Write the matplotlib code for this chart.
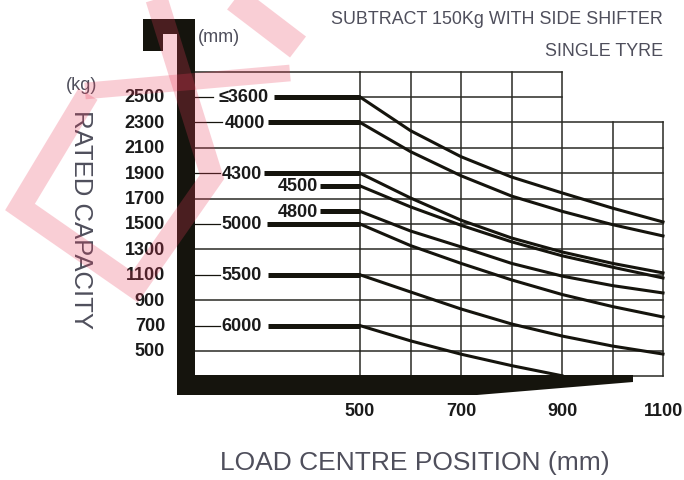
import matplotlib
matplotlib.use('Agg')
from matplotlib import pyplot as plt
from matplotlib.patches import Polygon

load_centre = [500, 600, 700, 800, 900, 1000, 1100]

# rated capacity (kg) per lift height (mm)
mast_labels = ['≤3600', '4000', '4300', '4500', '4800', '5000', '5500', '6000']
cap_3600 = [2500, 2235, 2030, 1870, 1745, 1625, 1516]
cap_4000 = [2300, 2070, 1880, 1720, 1600, 1495, 1406]
cap_4300 = [1900, 1705, 1530, 1390, 1280, 1190, 1115]
cap_4500 = [1800, 1635, 1490, 1360, 1250, 1160, 1075]
cap_4800 = [1600, 1445, 1320, 1190, 1090, 1015, 957]
cap_5000 = [1500, 1330, 1190, 1060, 945, 850, 768]
cap_5500 = [1100, 965, 831, 713, 618, 539, 476]
cap_6000 = [700, 580, 475, 385, 305]
curves = [cap_3600, cap_4000, cap_4300, cap_4500, cap_4800, cap_5000, cap_5500, cap_6000]

capacity_ticks = [2500, 2300, 2100, 1900, 1700, 1500, 1300, 1100, 900, 700, 500]
centre_ticks = [500, 700, 900, 1100]

INK = '#15140d'
TXT = '#4f4f5c'
FONT = ['Liberation Sans', 'DejaVu Sans']

fig = plt.figure(figsize=(6.84, 4.81), dpi=100)
ax = fig.add_axes([0, 0, 1, 1])
ax.set_xlim(-212.87, 1141.58)
ax.set_ylim(-515.75, 3271.65)
ax.axis('off')

mast_x = 173.3   # right edge of the mast, in mm units

# grid
for x in range(500, 1101, 100):
    top = 2700 if x <= 900 else 2300
    ax.plot([x, x], [300, top], color='#2a2a25', lw=1.1, zorder=2)
for y in range(300, 2701, 200):
    right = 900 if y >= 2500 else 1100
    ax.plot([500, right], [y, y], color='#2a2a25', lw=1.1, zorder=2)
for y in [2700, 2100, 1700, 1300, 900, 500]:
    ax.plot([mast_x, 500], [y, y], color='#2a2a25', lw=1.1, zorder=2)

# labels and flat parts at the left of each curve
label_x = [270, 272, 266, 377, 377, 266, 266, 266]
flat_start = [330, 318, 310, 421, 421, 316, 318, 318]
stub_end = [209, 227, 223, None, None, 223, 223, 223]
for lab, cap, lx, fx, sx in zip(mast_labels, curves, label_x, flat_start, stub_end):
    y0 = cap[0]
    if sx is not None:
        ax.plot([mast_x, sx], [y0, y0], color=INK, lw=0.9, zorder=3)
    ax.plot([fx, 500], [y0, y0], color=INK, lw=3.6, solid_capstyle='butt', zorder=3)
    ax.plot(load_centre[:len(cap)], cap, color=INK, lw=2.2,
            solid_joinstyle='round', zorder=3)
    ax.text(lx, y0, lab, ha='center', va='center', fontsize=13,
            fontweight='bold', family=FONT, color='#1a1a1a', zorder=4)

for t in capacity_ticks:
    ax.text(114, t, str(t), ha='right', va='center', fontsize=13,
            fontweight='bold', family=FONT, color='#1a1a1a')
for t in centre_ticks:
    ax.text(t, 35, str(t), ha='center', va='center', fontsize=13,
            fontweight='bold', family=FONT, color='#1a1a1a')

# decoration layer in picture pixels: truck mast, forks, texts, watermark
deco = fig.add_axes([0, 0, 1, 1])
deco.set_xlim(0, 684)
deco.set_ylim(481, 0)
deco.axis('off')
deco.patch.set_alpha(0)

mast = [(143, 20), (195, 20), (195, 376), (633, 376), (633, 383), (477, 396),
        (177, 396), (177, 35), (163, 35), (163, 52), (143, 52)]
deco.add_patch(Polygon(mast, closed=True, color=INK, lw=0, zorder=5))

deco.text(663, 19.5, 'SUBTRACT 150Kg WITH SIDE SHIFTER', ha='right', va='center',
          fontsize=12.9, family=FONT, color=TXT)
deco.text(663, 51, 'SINGLE TYRE', ha='right', va='center',
          fontsize=12.9, family=FONT, color=TXT)
deco.text(198, 37, '(mm)', ha='left', va='center', fontsize=13, family=FONT, color=TXT)
deco.text(82, 86, '(kg)', ha='center', va='center', fontsize=13, family=FONT, color=TXT)
deco.text(81, 220, 'RATED CAPACITY', rotation=270, ha='center', va='center',
          fontsize=18.5, family=FONT, color=TXT)
deco.text(415, 463, 'LOAD CENTRE POSITION (mm)', ha='center', va='center',
          fontsize=19, family=FONT, color=TXT)

# pink watermark strokes
wm = dict(color='#eb3c5a', alpha=0.25, solid_capstyle='butt',
          solid_joinstyle='miter', zorder=10)
deco.plot([155, 212, 135, 20, 88], [-5, 178, 288, 208, 95], lw=16, **wm)
deco.plot([85, 290], [92, 74], lw=12, **wm)
deco.plot([222, 298], [-10, 48], lw=19, **wm)

fig.savefig('out.png', dpi=100)
